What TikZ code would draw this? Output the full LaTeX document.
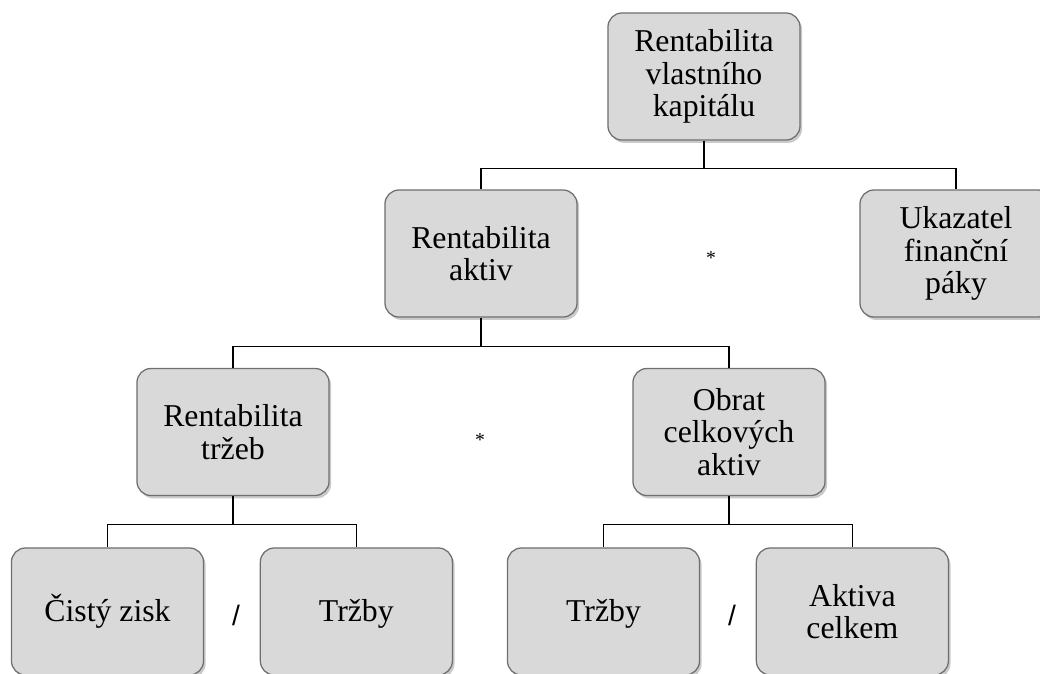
\documentclass[tikz,border=0pt]{standalone}
\usepackage{fontspec}
\setmainfont{Liberation Serif}
\newfontfamily\slashfont{Liberation Sans}
\usepackage{xcolor}
\usetikzlibrary{positioning,shadows}

\definecolor{boxfill}{HTML}{D9D9D9}
\definecolor{boxline}{HTML}{6F6F6F}

\begin{document}
\begin{tikzpicture}[x=0.025cm,y=-0.025cm,node distance=6.22cm,
                line width=0.9pt,
                ratio box/.style={rectangle,rounded corners=0.35cm,draw=boxline,fill=boxfill,
                  minimum width=4.8cm,minimum height=3.175cm,align=center,
                  font=\fontsize{22.6}{23}\selectfont,
                  drop shadow={shadow xshift=1.5pt,shadow yshift=-2pt,opacity=0.35,fill=black!60}},
                op/.style={font=\slashfont\fontsize{20}{20}\selectfont}]
  \clip (0,0) rectangle (1040,673);
  \useasboundingbox (0,0) rectangle (1040,673);

  \node[ratio box] (roe) at (704,76.5) {Rentabilita\\vlastního\\kapitálu};
  \node[ratio box] (roa) at (481,253.5) {Rentabilita\\aktiv};
  \node[ratio box] (paky) at (956,253.5) {Ukazatel\\finanční\\páky};
  \node[ratio box] (ros) at (233,432) {Rentabilita\\tržeb};
  \node[ratio box] (obrat) at (729,432) {Obrat\\celkových\\aktiv};
  \node[ratio box] (zisk) at (107.5,611.5) {Čistý zisk};
  \node[ratio box] (trzby1) [right of=zisk] {\vphantom{Č}Tržby};
  \node[ratio box] (trzby2) at (603.5,611.5) {\vphantom{Č}Tržby};
  \node[ratio box] (aktiva) [right of=trzby2] {Aktiva\\celkem};

  \node[font=\fontsize{14}{14}\selectfont] (krat1) at (711,258) {*};
  \node[font=\fontsize{14}{14}\selectfont] (krat2) at (480,440) {*};
  \node[op] (deleno1) at (236,615) {/};
  \node[op] (deleno2) at (732,615) {/};

  % spojnice
  \draw[line width=1.4pt] (roe.south) -- ++(0,28) coordinate (j1);
  \draw (j1) -| (roa.north);
  \draw (j1) -| (paky.north);

  \draw (roa.south) -- ++(0,29) coordinate (j2);
  \draw (j2) -| (ros.north);
  \draw (j2) -| (obrat.north);

  \draw (ros.south) -- ++(0,28) coordinate (j3);
  \draw (j3) -| (zisk.north);
  \draw (j3) -| (trzby1.north);

  \draw (obrat.south) -- ++(0,28) coordinate (j4);
  \draw (j4) -| (trzby2.north);
  \draw (j4) -| (aktiva.north);
\end{tikzpicture}
\end{document}
